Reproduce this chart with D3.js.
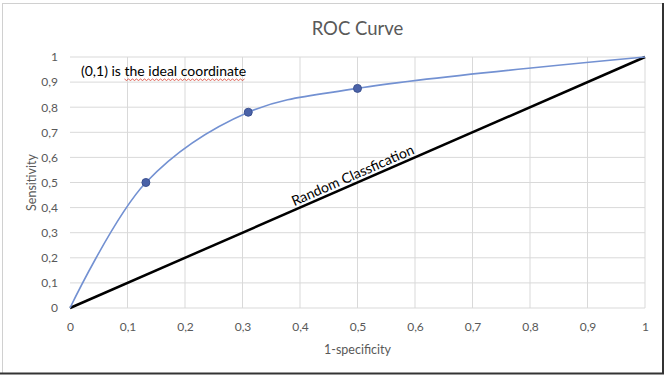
<!DOCTYPE html>
<html>
<head>
<meta charset="utf-8">
<script src="https://cdn.jsdelivr.net/npm/d3@7"></script>
<style>
  body { margin: 0; background: #fff; }
  text { font-family: Lato, "Open Sans", sans-serif; }
</style>
</head>
<body>
<div id="chart"></div>
<script>
var width = 667;
var height = 379;

// data
var rocX = [0, 0.132, 0.31, 0.5, 1];
var rocY = [0, 0.5, 0.78, 0.875, 1];
var markerIdx = [1, 2, 3];
var randomX = [0, 1];
var randomY = [0, 1];
var xTicks = [0, 0.1, 0.2, 0.3, 0.4, 0.5, 0.6, 0.7, 0.8, 0.9, 1];
var yTicks = [0, 0.1, 0.2, 0.3, 0.4, 0.5, 0.6, 0.7, 0.8, 0.9, 1];

var plotLeft = 70, plotRight = 645, plotTop = 57, plotBottom = 308;
var comma = function(d) { return String(d).replace(".", ","); };

var svg = d3.select("#chart").append("svg")
  .attr("width", width)
  .attr("height", height);

// frame
svg.append("rect")
  .attr("x", 2.5).attr("y", 3.5)
  .attr("width", 661).attr("height", 370)
  .attr("fill", "#fff")
  .attr("stroke", "#d0d0d0");
svg.append("path")
  .attr("d", "M663,3V373.5H0")
  .attr("fill", "none")
  .attr("stroke", "#333")
  .attr("stroke-width", 2);

var xScale = d3.scaleLinear().domain([0, 1]).range([plotLeft, plotRight]);
var yScale = d3.scaleLinear().domain([0, 1]).range([plotBottom, plotTop]);

// gridlines
svg.append("g")
  .selectAll("line")
  .data(xTicks.slice(1))
  .enter().append("line")
    .attr("x1", function(d) { return xScale(d); })
    .attr("x2", function(d) { return xScale(d); })
    .attr("y1", plotTop).attr("y2", plotBottom)
    .attr("stroke", "#d9d9d9");
svg.append("g")
  .selectAll("line")
  .data(yTicks)
  .enter().append("line")
    .attr("x1", plotLeft).attr("x2", plotRight)
    .attr("y1", function(d) { return yScale(d); })
    .attr("y2", function(d) { return yScale(d); })
    .attr("stroke", "#d9d9d9");

var xAxis = d3.axisBottom(xScale).tickValues(xTicks).tickSize(0).tickPadding(14).tickFormat(comma);
var yAxis = d3.axisLeft(yScale).tickValues(yTicks).tickSize(0).tickPadding(12).tickFormat(comma);

svg.append("g")
  .attr("transform", "translate(0," + plotBottom + ")")
  .call(xAxis)
  .call(function(g) { g.select(".domain").remove(); })
  .selectAll("text")
    .attr("fill", "#595959")
    .style("font-size", "12px");

svg.append("g")
  .attr("transform", "translate(" + plotLeft + ",0)")
  .call(yAxis)
  .call(function(g) { g.select(".domain").remove(); })
  .selectAll("text")
    .attr("fill", "#595959")
    .style("font-size", "12px");

// random classification line
var randomLine = d3.line()
  .x(function(d) { return xScale(d[0]); })
  .y(function(d) { return yScale(d[1]); });
svg.append("path")
  .datum(d3.zip(randomX, randomY))
  .attr("d", randomLine)
  .attr("fill", "none")
  .attr("stroke", "#000")
  .attr("stroke-width", 2.5);

// roc curve
var rocLine = d3.line()
  .x(function(d) { return xScale(d[0]); })
  .y(function(d) { return yScale(d[1]); })
  .curve(d3.curveCatmullRom.alpha(0.5));
var rocData = d3.zip(rocX, rocY);
svg.append("path")
  .datum(rocData)
  .attr("d", rocLine)
  .attr("fill", "none")
  .attr("stroke", "#7391d2")
  .attr("stroke-width", 1.6);

svg.append("g")
  .selectAll("circle")
  .data(markerIdx.map(function(i) { return rocData[i]; }))
  .enter().append("circle")
    .attr("cx", function(d) { return xScale(d[0]); })
    .attr("cy", function(d) { return yScale(d[1]); })
    .attr("r", 4)
    .attr("fill", "#4a62a8")
    .attr("stroke", "#3c5190");

// label on the diagonal
var ang = Math.atan2(yScale(0) - yScale(1), xScale(1) - xScale(0)) * 180 / Math.PI;
var lx = 0.495, ly = 0.495;
svg.append("text")
  .attr("transform", "translate(" + xScale(lx) + "," + (yScale(ly) - 4) + ") rotate(" + (-ang) + ")")
  .attr("text-anchor", "middle")
  .attr("fill", "#000")
  .style("font-size", "14px")
  .text("Random Classfication");

// annotation
var note = svg.append("text")
  .attr("x", 81)
  .attr("y", 76)
  .attr("fill", "#000")
  .style("font-size", "14px");
note.append("tspan").text("(0,1) is ");
var marked = note.append("tspan").text("the ideal coordinate");

// red squiggle under the spelling-marked words
var nb = note.node();
var start = nb.getSubStringLength(0, 9);
var len = marked.node().getComputedTextLength();
var sx = 81 + start, sy = 79;
var squig = "M" + sx + "," + sy;
for (var i = 0; (i + 1) * 2 <= len; i++) {
  squig += "L" + (sx + (i + 1) * 2) + "," + (sy + (i % 2 === 0 ? 1.5 : 0));
}
svg.append("path")
  .attr("d", squig)
  .attr("fill", "none")
  .attr("stroke", "#d63a2a")
  .attr("stroke-width", 0.8);

// titles
svg.append("text")
  .attr("x", (plotLeft + plotRight) / 2)
  .attr("y", 35)
  .attr("text-anchor", "middle")
  .attr("fill", "#595959")
  .style("font-size", "18.5px")
  .text("ROC Curve");

svg.append("text")
  .attr("x", (plotLeft + plotRight) / 2)
  .attr("y", 354)
  .attr("text-anchor", "middle")
  .attr("fill", "#595959")
  .style("font-size", "12.5px")
  .text("1-specificity");

svg.append("text")
  .attr("transform", "translate(36," + ((plotTop + plotBottom) / 2) + ") rotate(-90)")
  .attr("text-anchor", "middle")
  .attr("fill", "#595959")
  .style("font-size", "12.5px")
  .text("Sensitivity");
</script>
</body>
</html>
